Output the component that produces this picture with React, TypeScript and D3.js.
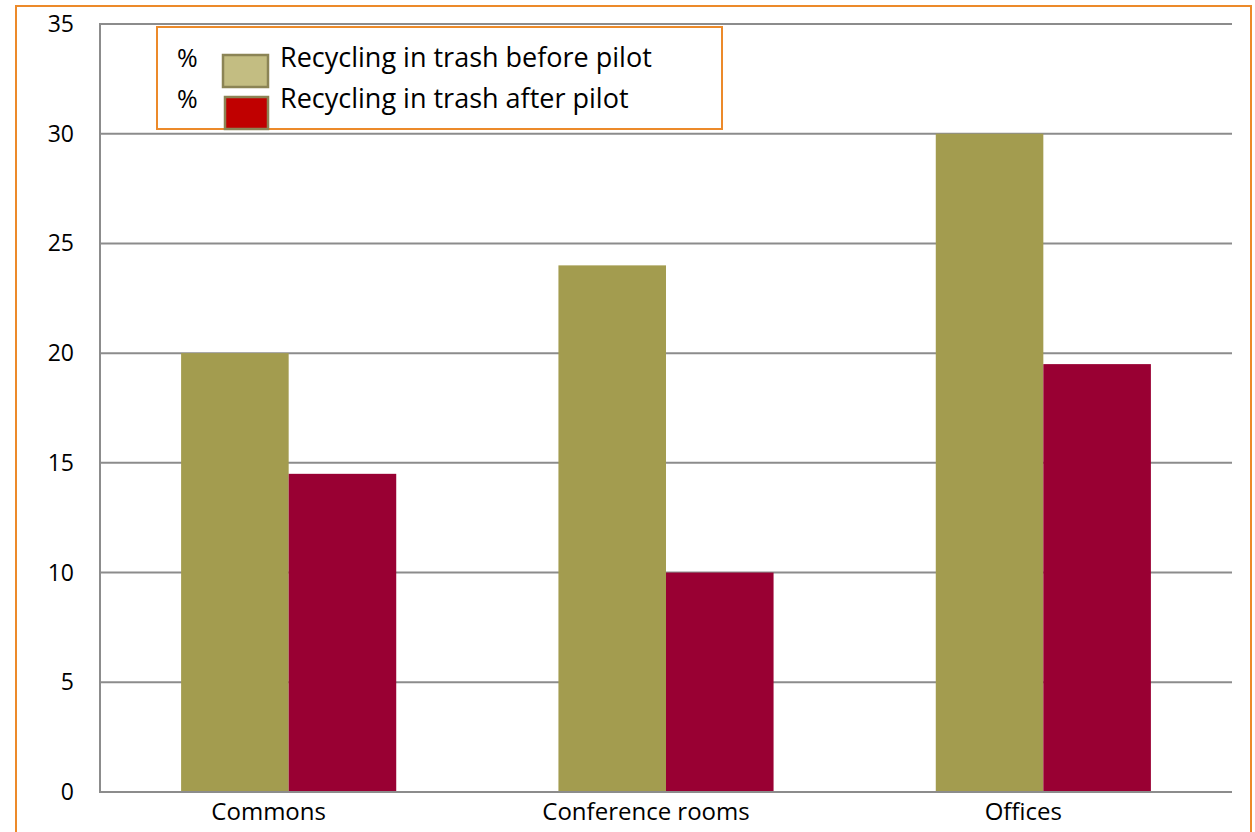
import * as d3 from 'd3';

const categories = ['Commons', 'Conference rooms', 'Offices'];
const seriesNames = ['Recycling in trash before pilot', 'Recycling in trash after pilot'];
const beforePilot = [20, 24, 30];
const afterPilot = [14.5, 10, 19.5];
const yTicks = [0, 5, 10, 15, 20, 25, 30, 35];

const barColors = ['#a39c4f', '#990033'];
const legendColors = ['#c3bd82', '#c00000'];
const FONT = "'Open Sans', 'Liberation Sans', sans-serif";

export default function App() {
  const width = 1255;
  const height = 832;
  const plot = { left: 100, right: 1232, top: 24, bottom: 792 };

  const x0 = d3.scaleBand<string>().domain(categories).range([plot.left, plot.right]);
  const x1 = d3.scaleBand<string>()
    .domain(seriesNames)
    .range([0, x0.bandwidth()])
    .paddingInner(0)
    .paddingOuter(0.754);
  const y = d3.scaleLinear().domain([0, 35]).range([plot.bottom, plot.top]);

  const values = [beforePilot, afterPilot];

  return (
    <svg
      width={width}
      height={height}
      style={{ position: 'absolute', left: 0, top: 0, background: '#fff' }}
      fontFamily={FONT}
    >
      {/* outer frame */}
      <rect x={16} y={6} width={1235} height={840} fill="none" stroke="#ec8a2a" strokeWidth={2} />

      {/* gridlines */}
      {yTicks.map((t) => (
        <line key={t} x1={plot.left} x2={plot.right} y1={y(t)} y2={y(t)} stroke="#8c8c8c" strokeWidth={2} />
      ))}

      {/* bars */}
      {seriesNames.map((s, si) => (
        <g key={s} fill={barColors[si]}>
          {categories.map((c, ci) => (
            <rect
              key={c}
              x={(x0(c) ?? 0) + (x1(s) ?? 0)}
              y={y(values[si][ci])}
              width={x1.bandwidth()}
              height={y(0) - y(values[si][ci])}
            />
          ))}
        </g>
      ))}

      {/* axes */}
      <line x1={plot.left} x2={plot.left} y1={plot.top - 1} y2={plot.bottom + 1} stroke="#8c8c8c" strokeWidth={2} />
      <line x1={plot.left} x2={plot.right} y1={plot.bottom} y2={plot.bottom} stroke="#8c8c8c" strokeWidth={2} />

      {yTicks.map((t) => (
        <text key={t} x={74} y={y(t) + 8} textAnchor="end" fontSize={23} fill="#000">
          {t}
        </text>
      ))}

      {categories.map((c) => (
        <text key={c} x={(x0(c) ?? 0) + x0.bandwidth() / 2 - 20} y={820} textAnchor="middle" fontSize={24} fill="#000">
          {c}
        </text>
      ))}

      {/* legend */}
      <rect x={157} y={27} width={565} height={102} fill="#fff" stroke="#ec8a2a" strokeWidth={2} />
      {seriesNames.map((s, i) => (
        <g key={s} transform={`translate(0, ${i * 41})`}>
          <text x={177} y={67} fontSize={25} fill="#000">%</text>
          <rect
            x={i === 0 ? 223 : 225}
            y={i === 0 ? 55 : 56}
            width={i === 0 ? 45 : 43}
            height={32}
            fill={legendColors[i]}
            stroke="#8b8455"
            strokeWidth={2.5}
          />
          <text x={280} y={67} fontSize={27} fill="#000">{s}</text>
        </g>
      ))}
    </svg>
  );
}
